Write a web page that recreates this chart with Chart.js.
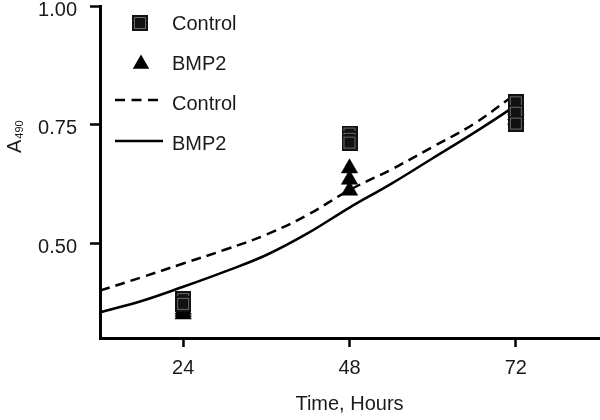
<!DOCTYPE html>
<html><head><meta charset="utf-8">
<script src="https://cdn.jsdelivr.net/npm/chart.js@4"></script>
<style>html,body{margin:0;padding:0;background:#fff}</style>
</head><body>
<canvas id="c" width="600" height="420" style="display:block;width:600px;height:420px"></canvas>
<script>
// ---- data ----
const xTicks = [24, 48, 72];
const yTicks = [0.50, 0.75, 1.00];
const fitHours = [12, 18, 24, 30, 36, 42, 48, 54, 60, 66, 72];
const controlFit = [0.400, 0.428, 0.457, 0.486, 0.518, 0.560, 0.612, 0.655, 0.703, 0.752, 0.815];
const bmp2Fit = [0.354, 0.378, 0.408, 0.440, 0.475, 0.521, 0.575, 0.625, 0.679, 0.733, 0.790];
const controlHours = [24, 24, 48, 48, 48, 72, 72, 72];
const controlValues = [0.382, 0.372, 0.731, 0.720, 0.712, 0.797, 0.775, 0.752];
const bmp2Hours = [24, 24, 24, 48, 48, 48, 72, 72, 72];
const bmp2Values = [0.360, 0.355, 0.350, 0.658, 0.634, 0.611, 0.780, 0.770, 0.760];
const legendLabels = ['Control', 'BMP2', 'Control', 'BMP2'];
const xTitle = 'Time, Hours';
const yTitleMain = 'A';
const yTitleSub = '490';

const FONT = "'Liberation Sans', Arial, sans-serif";
const TXT = '#1a1a1a';

// square marker image
const sq = document.createElement('canvas');
sq.width = 16; sq.height = 16;
(function () {
  const g = sq.getContext('2d');
  g.fillStyle = '#111'; g.fillRect(0, 0, 16, 16);
  g.strokeStyle = '#6a6a6a'; g.lineWidth = 1; g.strokeRect(2.5, 2.5, 11, 11);
})();

const pts = (xs, ys) => xs.map((x, i) => ({ x: x, y: ys[i] }));

const overlay = {
  id: 'overlay',
  afterDraw(chart) {
    const ctx = chart.ctx;
    ctx.save();
    // y title with subscript
    ctx.fillStyle = TXT;
    ctx.translate(21, 153);
    ctx.rotate(-Math.PI / 2);
    ctx.textBaseline = 'alphabetic';
    ctx.textAlign = 'left';
    ctx.font = '20px ' + FONT;
    ctx.fillText(yTitleMain, 0, 0);
    const w = ctx.measureText(yTitleMain).width;
    ctx.font = '11px ' + FONT;
    ctx.fillText(yTitleSub, w + 1, 1.5);
    ctx.restore();

    // legend
    ctx.save();
    ctx.drawImage(sq, 132, 15);
    const r = 9.5, cx = 141, cy = 64;
    ctx.beginPath();
    ctx.moveTo(cx, cy - r);
    ctx.lineTo(cx + Math.sin(2 * Math.PI / 3) * r, cy + r / 2);
    ctx.lineTo(cx - Math.sin(2 * Math.PI / 3) * r, cy + r / 2);
    ctx.closePath();
    ctx.fillStyle = '#000'; ctx.fill();
    ctx.strokeStyle = '#000'; ctx.lineWidth = 2.5;
    ctx.setLineDash([10, 6.5]);
    ctx.beginPath(); ctx.moveTo(115, 100); ctx.lineTo(159, 100); ctx.stroke();
    ctx.setLineDash([]);
    ctx.beginPath(); ctx.moveTo(115, 141); ctx.lineTo(163, 141); ctx.stroke();
    ctx.fillStyle = TXT;
    ctx.font = '20px ' + FONT;
    ctx.textBaseline = 'middle';
    ctx.textAlign = 'left';
    const ys = [24, 64, 104, 144];
    legendLabels.forEach((t, i) => ctx.fillText(t, 172, ys[i]));
    ctx.restore();
  }
};

new Chart(document.getElementById('c'), {
  type: 'scatter',
  data: {
    datasets: [
      { label: 'Control', data: pts(controlHours, controlValues), pointStyle: sq, pointRadius: 8, pointHoverRadius: 8, order: 0 },
      { label: 'BMP2', data: pts(bmp2Hours, bmp2Values), pointStyle: 'triangle', pointRadius: 9.5, pointHoverRadius: 9.5,
        backgroundColor: '#000', borderColor: '#000', borderWidth: 0.5, order: 1 },
      { label: 'Control fit', data: pts(fitHours, controlFit), showLine: true, pointRadius: 0, borderColor: '#000',
        borderWidth: 2.5, borderDash: [10, 6], tension: 0.4, order: 2 },
      { label: 'BMP2 fit', data: pts(fitHours, bmp2Fit), showLine: true, pointRadius: 0, borderColor: '#000',
        borderWidth: 2.5, tension: 0.4, order: 3 }
    ]
  },
  options: {
    responsive: false,
    animation: false,
    devicePixelRatio: 1,
    layout: { autoPadding: false, padding: { top: 6, right: 1, left: 0, bottom: 0 } },
    plugins: { legend: { display: false }, tooltip: { enabled: false } },
    scales: {
      x: {
        type: 'linear', min: 12, max: 84,
        afterBuildTicks: s => { s.ticks = xTicks.map(v => ({ value: v })); },
        afterFit: s => { s.height = 82; s.paddingLeft = 0; s.paddingRight = 0; },
        grid: { display: true, drawOnChartArea: false, drawTicks: true, tickLength: 9, tickWidth: 2.5, tickColor: '#000' },
        border: { display: true, color: '#000', width: 3 },
        ticks: { color: TXT, font: { family: FONT, size: 20 }, padding: 9, maxRotation: 0, autoSkip: false },
        title: { display: true, text: xTitle, color: TXT, font: { family: FONT, size: 20 }, padding: { top: 0, bottom: 4 } }
      },
      y: {
        type: 'linear', min: 0.3, max: 1.0,
        afterBuildTicks: s => { s.ticks = yTicks.map(v => ({ value: v })); },
        afterFit: s => { s.width = 100; s.paddingTop = 0; s.paddingBottom = 0; },
        grid: { display: true, drawOnChartArea: false, drawTicks: true, tickLength: 10, tickWidth: 2.5, tickColor: '#000' },
        border: { display: true, color: '#000', width: 3 },
        ticks: { color: TXT, font: { family: FONT, size: 20 }, padding: 13, labelOffset: 4, autoSkip: false,
          callback: v => Number(v).toFixed(2) }
      }
    }
  },
  plugins: [overlay]
});
</script>
</body></html>
